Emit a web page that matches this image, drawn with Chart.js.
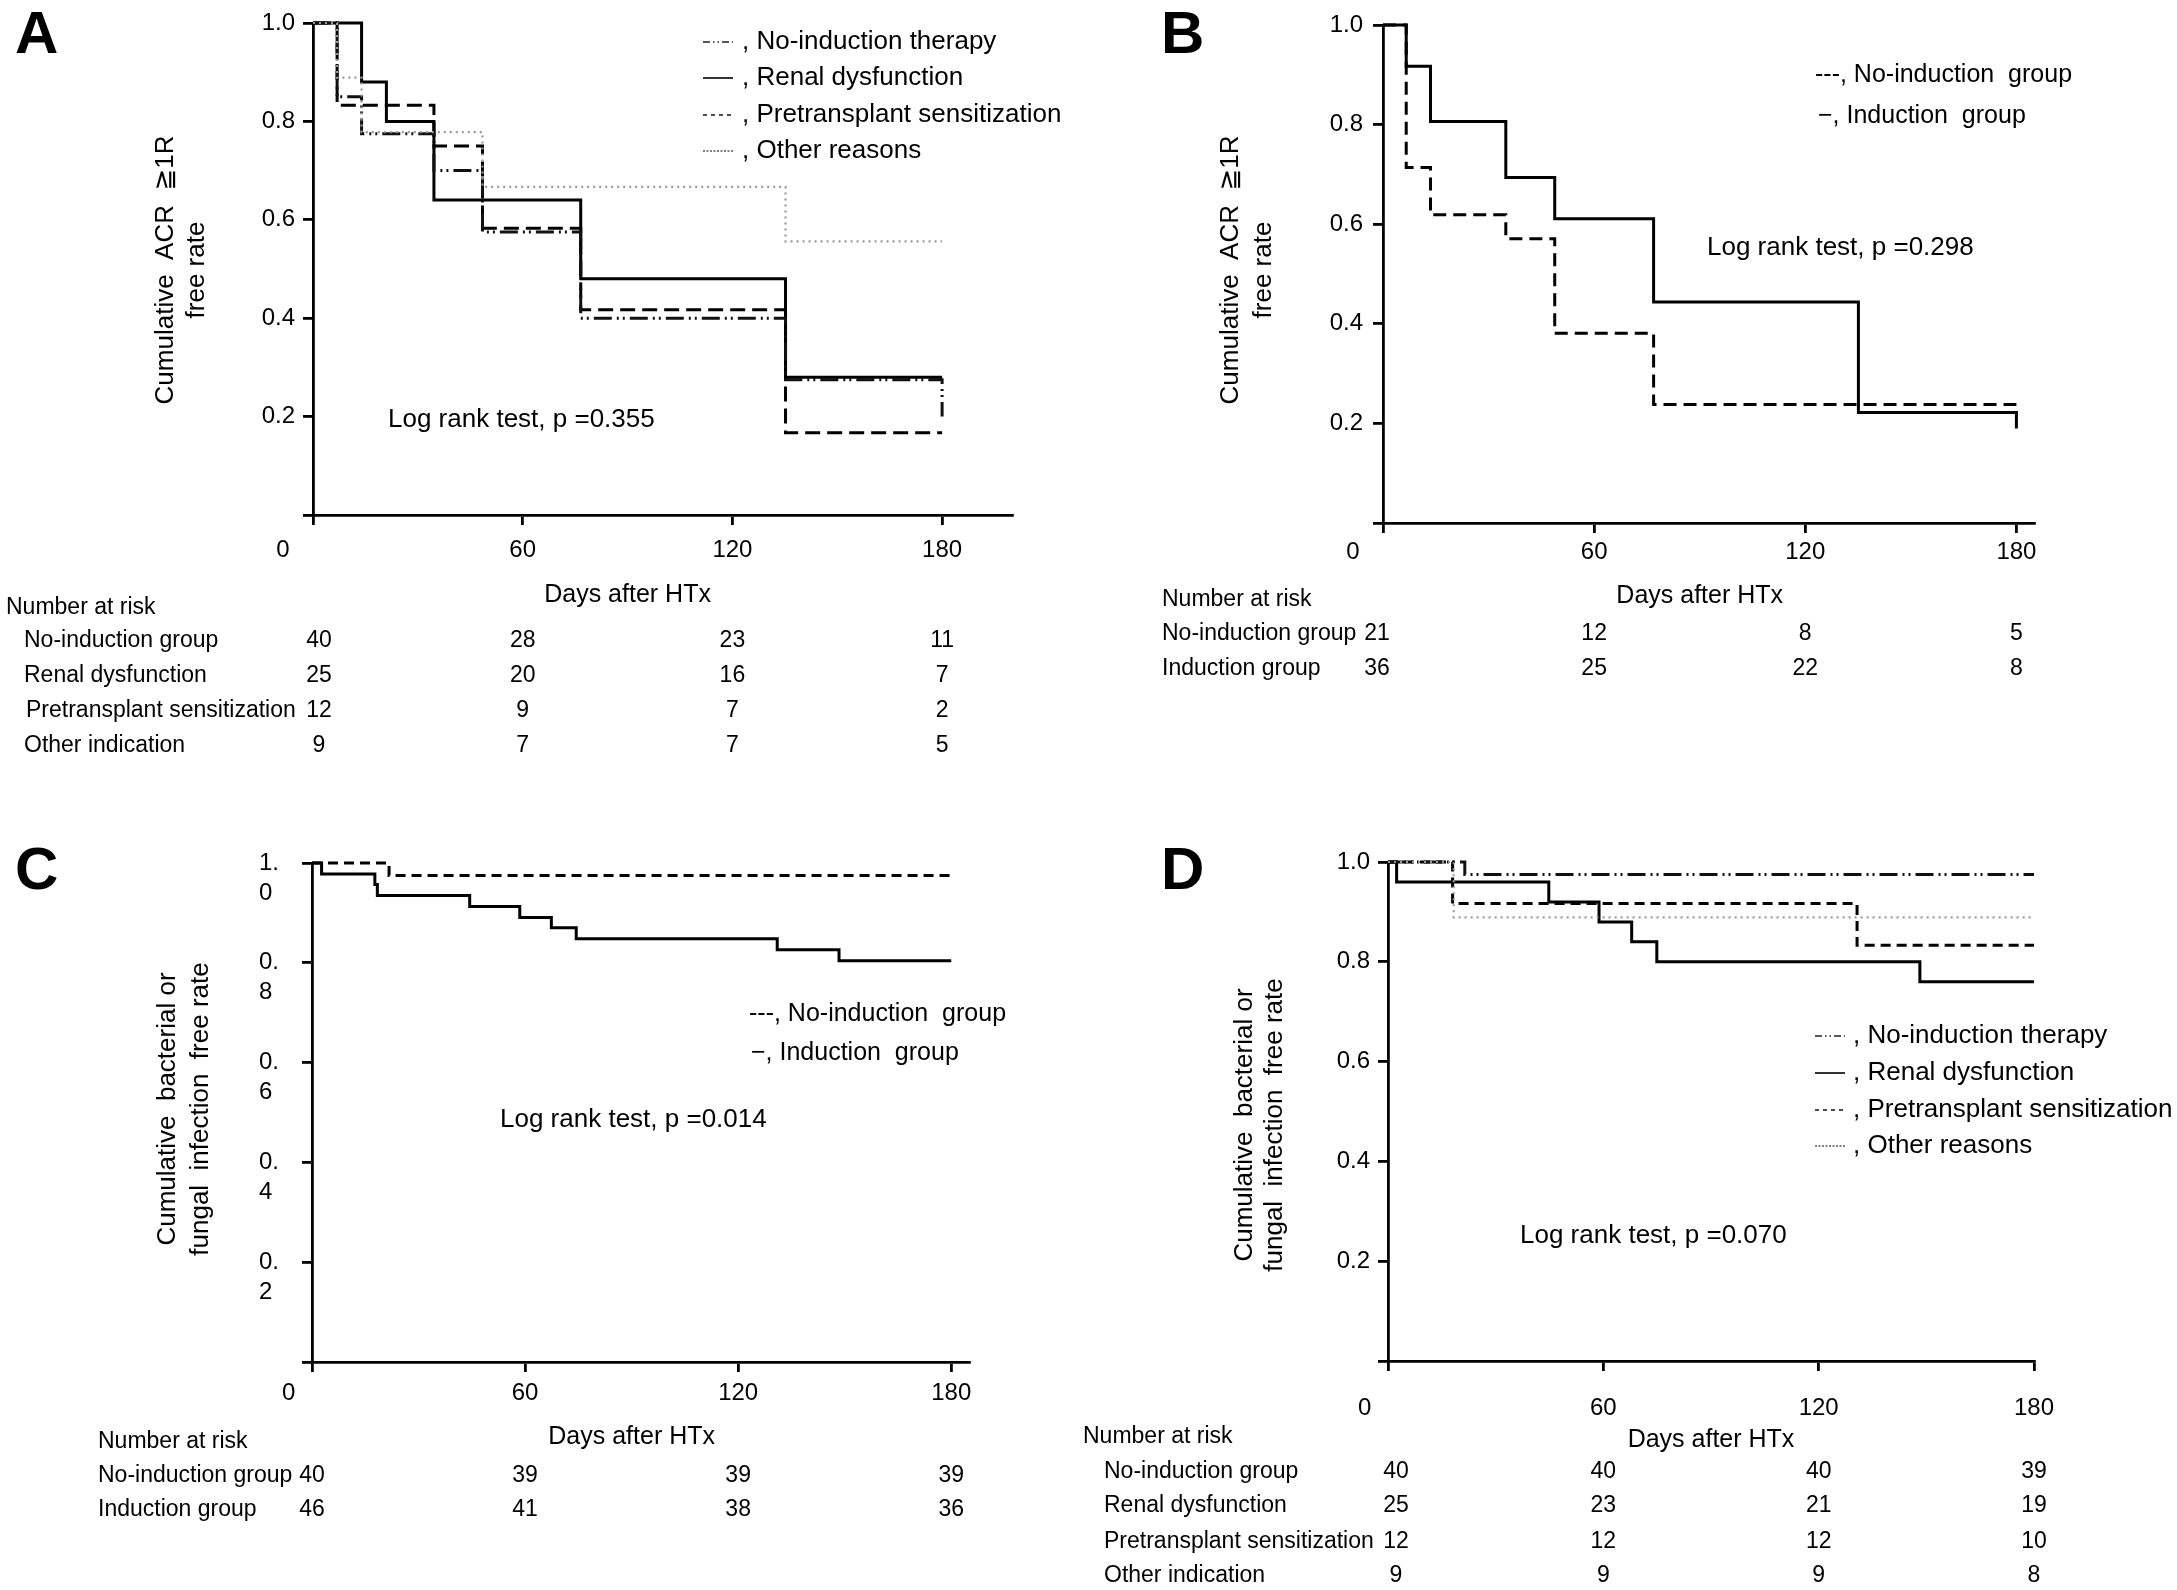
<!DOCTYPE html>
<html>
<head>
<meta charset="utf-8">
<script src="https://cdn.jsdelivr.net/npm/chart.js@4.4.1/dist/chart.umd.min.js"></script>
<style>
html, body { margin: 0; padding: 0; background: #fff; }
body { width: 2177px; height: 1590px; position: relative; overflow: hidden; }
canvas { position: absolute; left: 0; top: 0; }
</style>
</head>
<body>
<canvas id="chA" width="2177" height="1590"></canvas>
<canvas id="chB" width="2177" height="1590"></canvas>
<canvas id="chC" width="2177" height="1590"></canvas>
<canvas id="chD" width="2177" height="1590"></canvas>
<script>
const FONT = '"Liberation Sans", Arial, Helvetica, "DejaVu Sans", sans-serif';
const W = 2177, H = 1590;

// shared axes
const DAY_TICKS = [0, 60, 120, 180];
const RATE_TICKS = [0, 0.2, 0.4, 0.6, 0.8, 1.0];

// panel A : ACR >= 1R by induction indication
const A_NOIND_DAYS = [0, 6.9, 13.9, 34.6, 48.5, 76.6, 135.2, 180];
const A_NOIND_RATE = [1, 0.85, 0.775, 0.70, 0.575, 0.40, 0.275, 0.20];
const A_RENAL_DAYS = [0, 13.9, 21.0, 34.6, 76.6, 135.2, 180];
const A_RENAL_RATE = [1, 0.88, 0.80, 0.64, 0.48, 0.28, 0.28];
const A_PRE_DAYS = [0, 6.9, 34.6, 48.5, 76.6, 135.2, 180];
const A_PRE_RATE = [1, 0.833, 0.75, 0.583, 0.417, 0.167, 0.167];
const A_OTHER_DAYS = [0, 6.9, 13.9, 48.5, 135.2, 180];
const A_OTHER_RATE = [1, 0.889, 0.778, 0.667, 0.556, 0.556];
const A_RISK_LABELS = ['No-induction group', 'Renal dysfunction', 'Pretransplant sensitization', 'Other indication'];
const A_RISK = [[40, 28, 23, 11], [25, 20, 16, 7], [12, 9, 7, 2], [9, 7, 7, 5]];

// panel B : ACR >= 1R, induction vs none
const B_NOIND_DAYS = [0, 6.6, 13.5, 34.9, 48.8, 76.9, 180];
const B_NOIND_RATE = [1, 0.714, 0.619, 0.571, 0.381, 0.238, 0.238];
const B_IND_DAYS = [0, 6.6, 13.5, 34.9, 48.8, 76.9, 135.1, 180, 180];
const B_IND_RATE = [1, 0.917, 0.806, 0.694, 0.611, 0.444, 0.222, 0.222, 0.19];
const B_RISK_LABELS = ['No-induction group', 'Induction group'];
const B_RISK = [[21, 12, 8, 5], [36, 25, 22, 8]];

// panel C : infection, induction vs none
const C_NOIND_DAYS = [0, 21.7, 180];
const C_NOIND_RATE = [1, 0.975, 0.975];
const C_IND_DAYS = [0, 2.7, 17.7, 18.4, 44.4, 58.5, 67.4, 74.4, 131, 148.4, 180];
const C_IND_RATE = [1, 0.978, 0.957, 0.935, 0.913, 0.891, 0.870, 0.848, 0.826, 0.804, 0.804];
const C_RISK_LABELS = ['No-induction group', 'Induction group'];
const C_RISK = [[40, 39, 39, 39], [46, 41, 38, 36]];

// panel D : infection by induction indication
const D_NOIND_DAYS = [0, 21.4, 180];
const D_NOIND_RATE = [1, 0.975, 0.975];
const D_RENAL_DAYS = [0, 2.4, 44.8, 58.8, 67.9, 74.9, 148.2, 180];
const D_RENAL_RATE = [1, 0.96, 0.92, 0.88, 0.84, 0.80, 0.76, 0.76];
const D_PRE_DAYS = [0, 18.0, 130.7, 180];
const D_PRE_RATE = [1, 0.917, 0.833, 0.833];
const D_OTHER_DAYS = [0, 18.3, 180];
const D_OTHER_RATE = [1, 0.889, 0.889];
const D_RISK_LABELS = A_RISK_LABELS;
const D_RISK = [[40, 40, 40, 39], [25, 23, 21, 19], [12, 12, 12, 10], [9, 9, 9, 8]];

const STYLE = {
    noInd: { borderColor: '#111', borderWidth: 3, borderDash: [18, 5, 2, 4, 2, 5] },
    renal: { borderColor: '#000', borderWidth: 3, borderDash: [] },
    pre: { borderColor: '#000', borderWidth: 3, borderDash: [15, 7] },
    other: { borderColor: '#999', borderWidth: 2.2, borderDash: [2, 4] },
    dashB: { borderColor: '#000', borderWidth: 3, borderDash: [13, 7] },
    dashC: { borderColor: '#000', borderWidth: 3, borderDash: [10, 6] }
};
const SAMPLE = {
    noInd: { color: '#222', dash: [7, 3, 1.5, 3, 1.5, 3] },
    renal: { color: '#000', dash: [] },
    pre: { color: '#222', dash: [4, 4] },
    other: { color: '#555', dash: [2, 1.5] }
};
const FOUR_LEGEND = [', No-induction therapy', ', Renal dysfunction', ', Pretransplant sensitization', ', Other reasons'];
const FOUR_SAMPLES = ['noInd', 'renal', 'pre', 'other'];

function steps(days, rates) {
    return days.map((d, i) => ({ x: d, y: rates[i] }));
}

function put(ctx, s, x, y, font, align, base) {
    ctx.font = font + ' ' + FONT;
    ctx.textAlign = align || 'left';
    ctx.textBaseline = base || 'middle';
    ctx.fillText(s, x, y);
}

function textPlugin(p) {
    return {
        id: 'panelText',
        afterDraw(chart) {
            const ctx = chart.ctx, xs = chart.scales.x;
            ctx.save();
            ctx.fillStyle = '#000';
            put(ctx, p.letter, p.letterX, p.letterY, 'bold 60px', 'left', 'alphabetic');
            p.yTitle.forEach((line, i) => {
                ctx.save();
                ctx.translate(p.yTitleX[i], p.yTitleY);
                ctx.rotate(-Math.PI / 2);
                put(ctx, line, 0, 0, '26px', 'center');
                ctx.restore();
            });
            if (p.samples) {
                p.legend.forEach((t, i) => {
                    const sm = SAMPLE[p.samples[i]], y = p.legY[i];
                    ctx.save();
                    ctx.strokeStyle = sm.color;
                    ctx.lineWidth = 1.6;
                    ctx.setLineDash(sm.dash);
                    ctx.beginPath();
                    ctx.moveTo(p.legX, y);
                    ctx.lineTo(p.legX + 30, y);
                    ctx.stroke();
                    ctx.restore();
                    put(ctx, t, p.legTextX, y, '26px');
                });
            } else {
                p.legend.forEach((t, i) => put(ctx, t, p.legTextX[i], p.legY[i], '25px'));
            }
            put(ctx, p.logRank, p.logX, p.logY, '26px');
            put(ctx, 'Days after HTx', xs.getPixelForValue(90), p.xTitleY, '25px', 'center');
            put(ctx, 'Number at risk', p.headX, p.headY, '23px');
            p.riskLabels.forEach((lab, r) => {
                put(ctx, lab, p.riskLabelX[r], p.riskY[r], '23px');
                p.risk[r].forEach((n, c) => {
                    const x = xs.getPixelForValue(DAY_TICKS[c]) + (c === 0 ? p.firstDx : 0);
                    put(ctx, String(n), x, p.riskY[r], '23px', 'center');
                });
            });
            ctx.restore();
        }
    };
}

function makeChart(id, p) {
    const yW = p.yW, xH = 60;
    const axisLine = { color: '#000', width: 2.8 };
    const tickGrid = { drawOnChartArea: false, drawTicks: true, tickLength: 10, color: '#000', lineWidth: 2.8 };
    new Chart(document.getElementById(id), {
        type: 'line',
        data: {
            datasets: p.series.map(s => Object.assign({
                data: steps(s.days, s.rate), stepped: 'before', pointRadius: 0,
                fill: false, clip: false, tension: 0
            }, STYLE[s.style]))
        },
        options: {
            responsive: false, animation: false, devicePixelRatio: 1,
            layout: { padding: { left: p.L - yW, top: p.T, right: W - p.R, bottom: H - p.B - xH } },
            plugins: { legend: { display: false }, tooltip: { enabled: false } },
            scales: {
                x: {
                    type: 'linear', min: 0, max: p.xMax,
                    afterBuildTicks: s => { s.ticks = DAY_TICKS.map(v => ({ value: v })); },
                    afterFit: s => { s.height = xH; },
                    border: axisLine, grid: tickGrid,
                    ticks: {
                        autoSkip: false, maxRotation: 0, minRotation: 0, padding: p.xPad, color: '#000',
                        font: { size: 24, family: FONT },
                        callback: v => v === 0 ? '0' + p.zeroTail : String(v)
                    }
                },
                y: {
                    type: 'linear', min: 0, max: 1,
                    afterBuildTicks: s => { s.ticks = RATE_TICKS.map(v => ({ value: v })); },
                    afterFit: s => { s.width = yW; },
                    border: axisLine, grid: tickGrid,
                    ticks: {
                        padding: p.yPad, color: '#000',
                        crossAlign: p.splitY ? 'far' : 'near',
                        labelOffset: p.splitY ? 15 : 0,
                        font: { size: 24, family: FONT, lineHeight: 1.25 },
                        callback: v => {
                            if (v === 0) return '';
                            const s = v.toFixed(1);
                            return p.splitY ? [s.slice(0, 2), s.slice(2)] : s;
                        }
                    }
                }
            }
        },
        plugins: [textPlugin(p)]
    });
}

makeChart('chA', {
    L: 313, T: 19, R: 1012, B: 515, xMax: 200, yW: 80, xPad: 11, yPad: 8,
    zeroTail: '\u2007\u2007\u2007\u2007 ',
    series: [
        { days: A_OTHER_DAYS, rate: A_OTHER_RATE, style: 'other' },
        { days: A_NOIND_DAYS, rate: A_NOIND_RATE, style: 'noInd' },
        { days: A_PRE_DAYS, rate: A_PRE_RATE, style: 'pre' },
        { days: A_RENAL_DAYS, rate: A_RENAL_RATE, style: 'renal' }
    ],
    letter: 'A', letterX: 15, letterY: 53,
    yTitle: ['Cumulative  ACR  \u22671R', 'free rate'], yTitleX: [166, 197], yTitleY: 270,
    legend: FOUR_LEGEND, samples: FOUR_SAMPLES, legX: 703, legTextX: 742, legY: [42, 78, 115, 151],
    logRank: 'Log rank test, p =0.355', logX: 388, logY: 420,
    xTitleY: 595, headX: 6, headY: 608,
    riskLabels: A_RISK_LABELS, risk: A_RISK, riskLabelX: [24, 24, 26, 24], riskY: [641, 676, 711, 746], firstDx: 6
});

makeChart('chB', {
    L: 1383, T: 17, R: 2034, B: 523, xMax: 185, yW: 80, xPad: 5, yPad: 10,
    zeroTail: '\u2007\u2007\u2007\u2007 ',
    series: [
        { days: B_NOIND_DAYS, rate: B_NOIND_RATE, style: 'dashB' },
        { days: B_IND_DAYS, rate: B_IND_RATE, style: 'renal' }
    ],
    letter: 'B', letterX: 1161, letterY: 53,
    yTitle: ['Cumulative  ACR  \u22671R', 'free rate'], yTitleX: [1231, 1264], yTitleY: 270,
    legend: ['---, No-induction  group', '\u2212, Induction  group'], legTextX: [1815, 1818], legY: [75, 116],
    logRank: 'Log rank test, p =0.298', logX: 1707, logY: 248,
    xTitleY: 596, headX: 1162, headY: 600,
    riskLabels: B_RISK_LABELS, risk: B_RISK, riskLabelX: [1162, 1162], riskY: [634, 669], firstDx: -6
});

makeChart('chC', {
    L: 312, T: 863, R: 969, B: 1362, xMax: 185, yW: 53, xPad: 7, yPad: 10, splitY: true,
    zeroTail: '\u2007\u2007\u2007 ',
    series: [
        { days: C_NOIND_DAYS, rate: C_NOIND_RATE, style: 'dashC' },
        { days: C_IND_DAYS, rate: C_IND_RATE, style: 'renal' }
    ],
    letter: 'C', letterX: 15, letterY: 889,
    yTitle: ['Cumulative  bacterial or', 'fungal  infection  free rate'], yTitleX: [168, 201], yTitleY: 1109,
    legend: ['---, No-induction  group', '\u2212, Induction  group'], legTextX: [749, 751], legY: [1014, 1053],
    logRank: 'Log rank test, p =0.014', logX: 500, logY: 1120,
    xTitleY: 1437, headX: 98, headY: 1442,
    riskLabels: C_RISK_LABELS, risk: C_RISK, riskLabelX: [98, 98], riskY: [1476, 1510], firstDx: 0
});

makeChart('chD', {
    L: 1388, T: 862, R: 2034, B: 1361, xMax: 180, yW: 80, xPad: 23, yPad: 8,
    zeroTail: '\u2007\u2007\u2007 ',
    series: [
        { days: D_OTHER_DAYS, rate: D_OTHER_RATE, style: 'other' },
        { days: D_NOIND_DAYS, rate: D_NOIND_RATE, style: 'noInd' },
        { days: D_PRE_DAYS, rate: D_PRE_RATE, style: 'dashC' },
        { days: D_RENAL_DAYS, rate: D_RENAL_RATE, style: 'renal' }
    ],
    letter: 'D', letterX: 1161, letterY: 889,
    yTitle: ['Cumulative  bacterial or', 'fungal  infection  free rate'], yTitleX: [1245, 1275], yTitleY: 1125,
    legend: FOUR_LEGEND, samples: FOUR_SAMPLES, legX: 1815, legTextX: 1853, legY: [1036, 1073, 1110, 1146],
    logRank: 'Log rank test, p =0.070', logX: 1520, logY: 1236,
    xTitleY: 1440, headX: 1083, headY: 1437,
    riskLabels: D_RISK_LABELS, risk: D_RISK, riskLabelX: [1104, 1104, 1104, 1104], riskY: [1472, 1506, 1542, 1576], firstDx: 8
});
</script>
</body>
</html>
